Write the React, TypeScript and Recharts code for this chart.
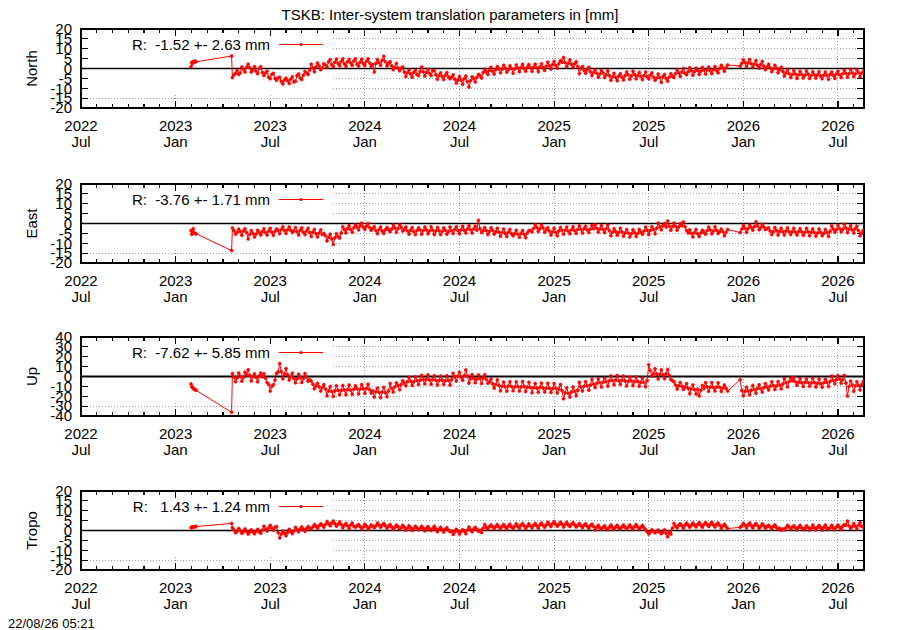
import React from 'react';
import { LineChart, Line, XAxis, YAxis, ReferenceLine, ReferenceArea } from 'recharts';

// x = months counted from 2022 Jul (0), 2023 Jan = 6, ...
const majorTicks = [0, 6, 12, 18, 24, 30, 36, 42, 48];
const yearLabels = ['2022', '2023', '2023', '2024', '2024', '2025', '2025', '2026', '2026'];
const monthLabels = ['Jul', 'Jan', 'Jul', 'Jan', 'Jul', 'Jan', 'Jul', 'Jan', 'Jul'];
const monthTicks = Array.from({ length: 50 }, (_, i) => i);
const xEnd = 49.65;

const ticks20 = [-20, -15, -10, -5, 0, 5, 10, 15, 20];
const ticks40 = [-40, -30, -20, -10, 0, 10, 20, 30, 40];

// first short session, then the lone epoch before the continuous series
const earlyMonths = [6.98, 7.02, 7.07, 7.12, 7.18, 7.25, 7.3, 9.55];
const earlyNorth = [1.0, 3.0, 2.5, 3.6, 3.2, 3.8, 3.4, 6.3];
const earlyEast = [-3.5, -5.5, -4.0, -2.6, -4.8, -5.0, -5.2, -13.7];
const earlyUp = [-7.5, -10.0, -11.0, -12.0, -12.8, -13.5, -14.0, -36.3];
const earlyTropo = [1.4, 1.6, 1.8, 1.7, 2.0, 1.9, 2.0, 3.6];

// continuous series: "A" values at 9.6, 9.8, ... and "B" values at 9.7, 9.9, ...
// (one row = one month, null = no solution)
const denseStart = 9.6;
const denseStep = 0.2;

const northA = [
  -4.6, -2.4, -3.0, 0.8, -1.8,
  2.2, -1.8, 1.0, -2.6, 0.9,
  -3.6, -1.4, -5.2, -2.4, -6.0,
  -4.4, -7.8, -4.9, -7.6, -4.2,
  -6.4, -2.8, -5.6, -1.5, -3.0,
  2.2, -1.6, 2.8, -0.6, 2.4,
  0.8, 4.6, 1.0, 4.8, 1.4,
  4.9, 1.2, 4.6, 1.6, 5.0,
  1.3, 4.7, 1.5, 4.9, 1.2,
  -1.8, 4.6, 1.6, 6.2, 1.4,
  3.4, -0.6, 2.6, -1.2, 0.8,
  -4.0, -0.8, -4.4, -1.0, -3.6,
  0.8, -3.8, -0.4, -3.6, -1.0,
  -5.4, -2.2, -5.6, -2.0, -5.2,
  -3.2, -7.4, -4.0, -8.0, -3.8,
  -9.4, -4.2, -6.8, -3.0, -4.8,
  -0.4, -3.0, 0.6, -2.8, 1.0,
  -2.2, 1.6, -1.8, 1.4, -2.4,
  1.8, -1.6, 2.2, -1.4, 2.0,
  -1.4, 2.2, -1.6, 2.4, -1.0,
  3.2, -0.2, 3.6, 0.2, 4.0,
  5.6, 1.0, 4.4, 0.6, 3.4,
  -2.6, 1.0, -2.4, 0.6, -3.6,
  -0.6, -4.4, -1.0, -4.6, -1.2,
  -6.0, -2.4, -6.2, -2.6, -5.8,
  -1.8, -5.4, -1.4, -5.2, -2.0,
  -5.6, -1.8, -5.2, -2.2, -6.0,
  -2.8, -7.0, -3.0, -6.4, -2.6,
  -4.6, -0.6, -4.0, 0.0, -3.2,
  0.4, -3.4, 0.2, -3.0, 0.6,
  -2.8, 0.8, -2.6, 1.0, -2.2,
  1.6, -1.4, 1.8, null, null,
  null, 1.2, 4.4, 1.0, 4.6,
  0.6, 4.0, 0.2, 3.6, -0.6,
  2.2, -1.6, 1.6, -2.2, 0.6,
  -3.8, -0.6, -4.6, -1.0, -5.0,
  -1.4, -4.8, -1.2, -5.0, -1.6,
  -4.8, -1.6, -5.2, -1.8, -5.4,
  -1.8, -5.0, -1.4, -4.6, -0.8,
  -4.4, -0.4, -4.0, -0.6, -4.2,
  -1.6,
];
const northB = [
  -3.2, -1.0, -2.2, -0.4, 0.6,
  0.4, -0.8, -1.4, 0.0, -2.0,
  -2.2, -4.4, -3.0, -5.0, -4.8,
  -6.6, -5.8, -6.2, -5.4, -6.8,
  -3.6, -4.8, -3.4, -2.2, -0.8,
  0.2, 0.8, 1.4, 0.4, 1.8,
  3.4, 2.0, 3.2, 2.6, 3.6,
  2.4, 3.4, 2.8, 3.8, 2.2,
  3.2, 2.4, 3.6, 2.8, 2.0,
  2.6, 3.0, 4.2, 3.4, 2.6,
  1.4, 0.6, 0.2, 0.0, -1.8,
  -2.2, -2.8, -2.0, -3.0, -1.6,
  -1.6, -2.0, -2.4, -1.2, -3.0,
  -3.6, -4.0, -3.4, -4.2, -4.4,
  -5.4, -5.8, -6.0, -5.2, -6.6,
  -6.2, -5.0, -4.6, -3.6, -2.0,
  -1.6, -1.0, -1.4, -0.6, -0.2,
  -0.4, 0.2, -0.6, 0.0, -0.2,
  0.2, 0.6, 0.0, 0.8, 0.4,
  0.6, 0.2, 0.8, 0.4, 1.2,
  1.4, 2.0, 1.6, 2.4, 3.2,
  3.0, 2.6, 2.2, 2.4, 1.0,
  0.0, -1.0, -0.6, -1.6, -2.0,
  -2.4, -2.8, -2.2, -3.2, -3.6,
  -4.2, -4.6, -3.8, -4.4, -3.6,
  -3.2, -3.8, -3.0, -3.6, -4.0,
  -3.6, -4.2, -3.4, -4.4, -4.8,
  -4.6, -4.2, -5.0, -4.4, -3.8,
  -2.6, -2.2, -1.8, -2.4, -1.6,
  -1.2, -1.6, -1.0, -1.4, -0.8,
  -0.8, -1.2, -0.6, -1.0, 0.0,
  0.2, 0.4, null, null, null,
  null, 2.6, 3.0, 2.8, 2.4,
  2.2, 1.6, 2.0, 1.2, 0.8,
  0.4, -0.2, 0.2, -0.6, -1.4,
  -2.2, -2.6, -3.0, -2.8, -3.2,
  -3.0, -3.4, -2.8, -3.6, -3.2,
  -3.2, -3.8, -3.4, -3.6, -3.0,
  -3.4, -2.8, -3.2, -2.6, -2.4,
  -2.6, -2.2, -2.8, -2.0, -2.4,
];

const eastA = [
  -2.2, -5.4, -2.8, -6.0, -2.6,
  -7.8, -3.6, -6.8, -3.4, -5.8,
  -2.6, -5.8, -2.4, -6.0, -2.8,
  -5.2, -1.6, -5.0, -1.8, -4.6,
  -2.0, -5.8, -2.2, -5.6, -2.4,
  -6.6, -3.0, -6.8, -3.2, -5.0,
  -8.8, -5.4, -10.6, -5.2, -7.4,
  -1.6, -4.8, -1.2, -4.4, -0.6,
  -3.2, 0.2, -3.0, 0.0, -3.4,
  -1.6, -5.2, -1.8, -5.0, -2.0,
  -4.2, -0.8, -4.4, -0.6, -3.8,
  -1.8, -5.4, -2.0, -5.6, -2.2,
  -5.4, -1.8, -5.2, -1.6, -5.6,
  -2.0, -5.6, -2.2, -5.4, -1.8,
  -5.0, -1.6, -5.2, -1.4, -4.8,
  -1.2, -4.8, -1.4, 1.6, -4.6,
  -2.0, -5.6, -2.2, -5.4, -2.4,
  -6.4, -2.8, -6.6, -3.0, -6.2,
  -3.4, -7.0, -3.6, -7.2, -3.6,
  -4.2, -0.6, -4.0, -0.8, -4.4,
  -2.2, -5.8, -2.4, -6.2, -2.0,
  -5.4, -1.8, -5.2, -1.6, -5.0,
  -1.2, -4.8, -1.4, -4.6, -1.0,
  -0.6, -4.4, -1.0, -4.6, -0.8,
  -6.2, -2.6, -6.0, -2.4, -6.4,
  -3.0, -6.8, -3.2, -6.6, -3.0,
  -5.4, -1.8, -5.6, -1.6, -5.2,
  0.2, -3.2, 0.0, 1.3, -3.4,
  0.2, -3.4, 0.0, 0.8, -3.6,
  -3.2, -6.8, -3.0, -6.6, -3.4,
  -5.4, -1.8, -5.2, -1.6, -5.0,
  -2.8, -6.2, -3.0, null, null,
  null, -4.6, -1.0, -4.4, -0.8,
  -3.4, 0.9, -3.2, -0.4, -3.0,
  -2.2, -5.6, -2.0, -5.8, -2.4,
  -5.8, -2.2, -5.6, -2.4, -5.8,
  -2.6, -6.0, -2.4, -6.2, -2.8,
  -6.4, -2.8, -6.2, -3.0, -6.6,
  -1.2, -4.4, -1.0, -4.2, -0.4,
  -4.6, -1.2, -4.8, -1.4, -6.2,
  -3.4,
];
const eastB = [
  -3.6, -4.4, -4.0, -3.8, -4.6,
  -5.6, -5.0, -5.4, -4.6, -4.2,
  -4.6, -3.8, -4.4, -4.0, -3.6,
  -3.0, -3.6, -3.2, -3.4, -3.8,
  -4.2, -3.4, -4.4, -3.8, -4.6,
  -4.4, -5.2, -4.8, -5.6, -6.2,
  -7.0, -7.8, -7.2, -6.6, -4.8,
  -3.2, -2.6, -3.0, -2.2, -1.8,
  -1.2, -1.8, -1.4, -2.0, -2.6,
  -3.6, -3.0, -3.8, -3.2, -3.0,
  -2.8, -2.2, -2.6, -2.0, -3.0,
  -3.8, -3.4, -4.0, -3.6, -3.2,
  -3.6, -3.2, -3.8, -3.4, -3.8,
  -3.6, -4.0, -3.4, -4.2, -3.6,
  -3.0, -3.6, -3.2, -3.4, -2.8,
  -3.2, -2.8, -3.4, -2.6, -3.6,
  -3.6, -4.0, -3.4, -4.2, -4.4,
  -4.6, -5.0, -4.4, -5.2, -5.0,
  -5.4, -5.0, -5.6, -4.8, -3.6,
  -2.4, -2.0, -2.6, -2.2, -3.0,
  -3.8, -4.2, -4.6, -3.8, -3.4,
  -3.4, -3.8, -3.2, -3.6, -3.0,
  -3.0, -2.6, -3.2, -2.8, -2.6,
  -2.4, -2.8, -3.0, -2.6, -3.6,
  -4.4, -4.0, -4.6, -4.2, -4.8,
  -4.8, -5.2, -4.6, -5.0, -4.4,
  -3.8, -3.4, -3.6, -3.0, -2.4,
  -1.6, -1.2, -1.8, -1.4, -1.6,
  -1.4, -1.8, -1.2, -1.6, -4.8,
  -5.0, -4.6, -5.2, -4.8, -4.4,
  -3.6, -3.2, -3.8, -3.4, -4.0,
  -4.2, -4.6, null, null, null,
  null, -2.8, -2.4, -2.6, -2.0,
  -1.6, -1.2, -2.0, -1.8, -2.6,
  -3.8, -4.2, -3.6, -4.0, -4.2,
  -3.8, -4.2, -4.0, -4.4, -4.0,
  -4.2, -4.6, -4.0, -4.4, -4.6,
  -4.8, -4.4, -5.0, -4.6, -4.0,
  -2.8, -3.2, -2.6, -3.0, -2.2,
  -2.8, -3.2, -2.6, -3.6, -4.8,
];

const upA = [
  3.0, -5.2, 3.6, -4.8, 4.4,
  6.8, -4.6, 2.8, -5.4, 3.6,
  2.8, -6.2, -14.8, -8.4, 3.0,
  13.2, -2.4, 8.0, -3.6, 3.4,
  -6.4, 2.4, -6.0, 3.0, -4.8,
  -4.6, -12.4, -6.8, -14.6, -8.2,
  -19.6, -10.0, -20.2, -9.4, -18.6,
  -9.0, -18.4, -8.6, -18.0, -9.4,
  -17.6, -8.2, -17.0, -7.8, -16.8,
  -20.8, -11.6, -21.4, -11.0, -20.4,
  -7.0, -15.6, -6.4, -13.4, -4.2,
  -9.4, -1.0, -9.0, -0.4, -8.2,
  1.2, -7.4, 1.6, -7.8, 0.8,
  -8.6, 0.4, -8.2, 0.8, -8.8,
  3.2, -4.6, 4.4, -3.8, 6.6,
  -6.8, 2.0, -6.4, 1.6, -7.2,
  1.8, -6.8, -2.6, -11.8, -3.4,
  -14.6, -5.6, -15.0, -5.2, -14.4,
  -5.4, -14.8, -5.0, -15.2, -5.8,
  -16.4, -7.0, -16.0, -6.6, -15.6,
  -6.8, -16.2, -7.2, -16.8, -8.0,
  -22.6, -11.4, -20.8, -10.6, -19.4,
  -5.8, -14.6, -5.2, -13.8, -3.0,
  -11.2, -2.4, -10.6, -1.8, -9.8,
  0.6, -8.4, 1.0, -8.0, 0.4,
  -9.6, -0.8, -9.2, -0.4, -9.8,
  -1.6, -10.4, 11.8, 0.4, 7.8,
  -2.6, 6.8, -2.4, 7.2, -3.0,
  -5.4, -12.6, -6.0, -13.2, -7.2,
  -17.4, -8.6, -17.8, -19.8, -9.0,
  -6.2, -15.0, -6.0, -14.6, -6.4,
  -15.2, -8.6, -14.8, null, null,
  null, -3.2, -19.4, -10.8, -18.6,
  -9.0, -17.0, -8.4, -15.8, -7.2,
  -13.6, -5.4, -13.2, -5.0, -12.4,
  -2.2, -10.6, -1.4, -1.0, -8.8,
  -2.0, -10.2, -2.4, -9.8, -1.8,
  -10.6, -2.6, -10.8, -2.8, -10.2,
  0.4, -7.4, 0.8, -6.8, 1.2,
  -19.8, -4.6, -15.0, -5.2, -13.6,
  -4.8,
];
const upB = [
  -0.6, -1.4, 0.2, -0.8, 1.6,
  1.2, -0.2, -1.0, 0.6, -0.4,
  -1.8, -8.0, -10.0, -3.6, 4.6,
  5.0, 2.6, 1.8, -0.2, -2.0,
  -2.4, -1.0, -2.0, -0.6, -3.2,
  -7.8, -9.6, -10.4, -11.2, -12.6,
  -14.4, -15.2, -14.6, -13.8, -14.2,
  -13.6, -13.2, -14.0, -12.8, -12.4,
  -12.8, -12.4, -12.0, -13.2, -14.6,
  -15.4, -16.2, -15.8, -16.4, -14.6,
  -12.0, -10.4, -9.0, -8.0, -6.6,
  -5.2, -4.6, -5.6, -4.0, -3.8,
  -3.2, -2.8, -3.6, -3.0, -3.8,
  -4.0, -3.6, -4.4, -3.8, -3.2,
  -0.4, 0.2, -0.8, 1.0, 0.6,
  -2.4, -1.8, -2.8, -2.0, -1.4,
  -3.0, -5.4, -7.4, -8.2, -9.0,
  -9.8, -10.4, -9.6, -10.2, -10.6,
  -10.0, -10.6, -9.8, -10.8, -11.2,
  -11.4, -11.8, -11.0, -11.6, -12.0,
  -11.8, -12.4, -11.6, -12.8, -14.2,
  -16.4, -17.0, -15.6, -15.0, -13.8,
  -10.6, -9.8, -9.4, -8.6, -7.8,
  -6.8, -6.2, -5.8, -5.0, -4.4,
  -4.0, -3.6, -4.4, -3.8, -4.6,
  -5.0, -4.4, -5.2, -4.8, -5.8,
  -6.0, -4.0, 6.0, 3.0, 2.6,
  2.2, 1.6, 2.8, 1.0, -4.0,
  -8.6, -9.4, -9.8, -10.6, -11.8,
  -12.6, -13.2, -12.8, -14.0, -12.2,
  -10.4, -10.8, -11.2, -10.6, -11.0,
  -11.6, -11.8, null, null, null,
  null, -14.2, -15.0, -14.6, -13.8,
  -13.2, -12.0, -12.4, -11.2, -10.6,
  -9.8, -9.2, -9.6, -8.6, -7.6,
  -6.2, -5.0, -4.4, -5.2, -5.8,
  -6.4, -5.8, -6.2, -6.6, -6.0,
  -6.8, -7.2, -6.4, -6.0, -5.0,
  -3.8, -3.2, -2.6, -3.4, -6.6,
  -10.2, -8.4, -9.6, -8.8, -8.2,
];

const tropoA = [
  1.4, -1.2, 1.0, -1.4, 0.8,
  -1.8, 0.4, -1.6, 0.6, -1.4,
  2.2, -0.2, 2.6, 0.2, 2.0,
  -3.8, -0.2, -2.6, 0.6, -1.6,
  1.6, -0.6, 1.8, -0.4, 2.0,
  0.8, 3.0, 1.2, 3.4, 1.6,
  4.6, 2.4, 4.8, 2.2, 4.4,
  1.4, 3.6, 1.2, 3.8, 1.6,
  3.0, 0.8, 3.2, 0.6, 2.8,
  1.4, 3.8, 1.6, 3.6, 1.2,
  3.0, 0.6, 2.8, 0.8, 2.6,
  0.2, 2.4, 0.0, 2.2, 0.4,
  2.2, -0.2, 2.0, 0.0, 2.2,
  -0.6, 1.6, -0.8, 1.4, -0.6,
  -2.0, 0.6, -1.8, 0.4, -1.6,
  1.8, -0.6, 1.6, -0.4, -1.0,
  3.0, 0.6, 2.8, 0.8, 3.0,
  0.8, 3.0, 0.6, 3.2, 1.0,
  3.4, 1.2, 3.6, 1.0, 3.4,
  1.4, 3.6, 1.2, 3.8, 1.6,
  4.2, 2.0, 4.4, 2.2, 4.2,
  1.8, 4.2, 2.0, 4.0, 1.8,
  3.6, 1.4, 3.4, 1.2, 3.2,
  0.4, 2.6, 0.6, 2.4, 0.4,
  2.8, 0.6, 2.6, 0.8, 2.8,
  0.8, 2.8, 0.6, 3.0, 0.8,
  2.6, 0.4, -1.8, 0.4, -1.2,
  0.2, -1.6, 0.4, -3.2, -1.8,
  3.6, 1.4, 3.4, 1.2, 3.8,
  1.6, 3.8, 1.8, 4.0, 1.6,
  4.0, 2.0, 4.2, 1.8, 3.8,
  1.2, 3.2, 1.0, null, null,
  null, 1.6, 3.6, 1.4, 3.8,
  1.4, 3.6, 1.2, 3.4, 1.2,
  2.6, 0.6, 2.8, 0.8, 0.1,
  0.4, 2.6, 0.6, 2.4, 0.4,
  2.6, 0.4, 2.4, 0.2, 2.8,
  0.4, 2.6, 0.2, 2.8, 0.6,
  2.6, 0.4, 2.8, 0.6, 3.0,
  4.8, 1.2, 3.6, 0.8, 4.0,
  1.8,
];
const tropoB = [
  0.2, -0.4, 0.0, -0.6, -0.4,
  -0.8, -0.6, -0.4, -0.8, 0.2,
  0.8, 1.4, 1.2, 1.6, -1.0,
  -1.8, -1.4, -1.0, -0.6, -0.2,
  0.4, 0.8, 0.6, 1.0, 1.2,
  1.8, 2.2, 2.4, 2.6, 3.0,
  3.4, 3.8, 3.4, 3.2, 3.0,
  2.6, 2.4, 2.8, 2.2, 2.4,
  2.0, 1.8, 2.2, 1.6, 2.2,
  2.4, 2.8, 2.6, 2.4, 2.2,
  1.8, 1.6, 2.0, 1.4, 1.6,
  1.2, 1.4, 1.0, 1.2, 1.0,
  1.0, 1.2, 0.8, 1.0, 0.8,
  0.6, 0.4, 0.6, 0.2, -0.2,
  -0.8, -0.4, -0.6, -0.2, 0.2,
  0.4, 0.8, 0.6, 0.2, 1.2,
  1.6, 2.0, 1.8, 2.0, 1.8,
  2.0, 1.8, 2.2, 1.8, 2.2,
  2.2, 2.6, 2.4, 2.2, 2.4,
  2.6, 2.4, 2.8, 2.6, 2.8,
  3.0, 3.4, 3.2, 3.0, 3.2,
  3.0, 2.8, 3.2, 2.8, 2.6,
  2.4, 2.6, 2.2, 2.4, 2.0,
  1.6, 1.4, 1.6, 1.2, 1.6,
  1.6, 1.8, 1.4, 1.8, 1.6,
  1.8, 1.6, 2.0, 1.8, 1.6,
  1.4, -0.6, -0.8, -0.4, -0.6,
  -0.8, -1.0, -1.4, -0.6, 1.2,
  2.2, 2.6, 2.4, 2.6, 2.8,
  2.6, 2.8, 3.0, 2.8, 3.0,
  3.0, 3.2, 2.8, 3.0, 2.6,
  2.4, 2.0, null, null, null,
  null, 2.4, 2.6, 2.8, 2.4,
  2.6, 2.4, 2.2, 2.4, 2.0,
  1.8, 2.0, 1.6, 1.2, 0.8,
  1.4, 1.8, 1.6, 1.4, 1.6,
  1.4, 1.2, 1.6, 1.2, 1.4,
  1.6, 1.4, 1.6, 1.2, 1.4,
  1.4, 1.8, 1.6, 2.0, 2.6,
  2.4, 2.0, 2.2, 2.6, 2.2,
];

type Row = { m: number; north: number | null; east: number | null; up: number | null; tropo: number | null };

const rows: Row[] = earlyMonths.map((m, i) => ({
  m,
  north: earlyNorth[i],
  east: earlyEast[i],
  up: earlyUp[i],
  tropo: earlyTropo[i],
}));
northA.forEach((v, i) => {
  const m = denseStart + i * denseStep;
  rows.push({ m: +m.toFixed(2), north: v, east: eastA[i], up: upA[i], tropo: tropoA[i] });
  if (i < northB.length) {
    rows.push({ m: +(m + denseStep / 2).toFixed(2), north: northB[i], east: eastB[i], up: upB[i], tropo: tropoB[i] });
  }
});

const panels = [
  { key: 'north', title: 'North', min: -20, max: 20, ticks: ticks20, keyBottom: -12.5, stat: 'R:  -1.52 +- 2.63 mm' },
  { key: 'east', title: 'East', min: -20, max: 20, ticks: ticks20, keyBottom: -12.5, stat: 'R:  -3.76 +- 1.71 mm' },
  { key: 'up', title: 'Up', min: -40, max: 40, ticks: ticks40, keyBottom: -25, stat: 'R:  -7.62 +- 5.85 mm' },
  { key: 'tropo', title: 'Tropo', min: -20, max: 20, ticks: ticks20, keyBottom: -12.5, stat: 'R:   1.43 +- 1.24 mm' },
];

const plotTops = [29, 184, 337, 491];
const PLOT_H = 79;
const PLOT_W = 783;
const TOP_PAD = 10;
const FONT = '"Liberation Sans", Arial, Helvetica, sans-serif';
const RED = '#ff0000';
const GRID = '#a0a0a0';
const KEY_RIGHT = 15.95; // the opaque key box hides the grid up to here
const MAJOR_PX = 7;
const MINOR_PX = 4;

function DateTick(props: any) {
  const { x, y, payload } = props;
  const i = majorTicks.indexOf(payload.value);
  return (
    <text x={x} y={y} textAnchor="middle" fontSize={15} fill="#000">
      <tspan x={x} dy={23}>{yearLabels[i]}</tspan>
      <tspan x={x} dy={15.5}>{monthLabels[i]}</tspan>
    </text>
  );
}

function ValueTick(props: any) {
  const { x, y, payload } = props;
  return (
    <text x={x - 9} y={y} dy="0.355em" textAnchor="end" fontSize={15} fill="#000">
      {payload.value}
    </text>
  );
}

function Panel({ p, top }: { p: (typeof panels)[number]; top: number }) {
  const gridRows = p.ticks.filter((v) => v !== 0 && v !== p.min && v !== p.max);
  const dom: [number, number] = [p.min, p.max];
  const xdom: [number, number] = [0, xEnd];
  // inward tick marks on all four sides (gnuplot style), lengths turned into axis units
  const yPerPx = (p.max - p.min) / PLOT_H;
  const xPerPx = xEnd / PLOT_W;
  const tickMark = { stroke: '#000', strokeWidth: 1.2, shapeRendering: 'crispEdges' as const };
  return (
    <div style={{ position: 'absolute', left: 0, top: top - TOP_PAD }}>
      <LineChart
        width={900}
        height={TOP_PAD + PLOT_H + 45}
        data={rows}
        margin={{ top: TOP_PAD, right: 36, bottom: 0, left: 0 }}
      >
        <XAxis
          dataKey="m"
          type="number"
          domain={xdom}
          allowDataOverflow
          ticks={majorTicks}
          interval={0}
          tick={DateTick}
          tickSize={0}
          tickMargin={0}
          tickLine={false}
          axisLine={false}
          height={45}
        />
        <YAxis
          type="number"
          domain={dom}
          allowDataOverflow
          ticks={p.ticks}
          interval={0}
          width={81}
          tick={ValueTick}
          tickSize={0}
          tickMargin={0}
          tickLine={false}
          axisLine={false}
        />

        {gridRows.map((v) => (
          <ReferenceLine
            key={'h' + v}
            segment={[{ x: v > p.keyBottom ? KEY_RIGHT : 0, y: v }, { x: xEnd, y: v }]}
            stroke={GRID}
            strokeDasharray="1 2"
            shapeRendering="crispEdges"
          />
        ))}
        {majorTicks.slice(1).map((m) => (
          <ReferenceLine
            key={'v' + m}
            segment={[{ x: m, y: p.min }, { x: m, y: m < KEY_RIGHT ? p.keyBottom : p.max }]}
            stroke={GRID}
            strokeDasharray="1 2"
            shapeRendering="crispEdges"
          />
        ))}

        {monthTicks.slice(1).map((m) => {
          const len = (majorTicks.includes(m) ? MAJOR_PX : MINOR_PX) * yPerPx;
          return [
            <ReferenceLine key={'tb' + m} segment={[{ x: m, y: p.min }, { x: m, y: p.min + len }]} {...tickMark} />,
            <ReferenceLine key={'tt' + m} segment={[{ x: m, y: p.max }, { x: m, y: p.max - len }]} {...tickMark} />,
          ];
        })}
        {p.ticks.slice(1, -1).map((v) => [
          <ReferenceLine key={'tl' + v} segment={[{ x: 0, y: v }, { x: MAJOR_PX * xPerPx, y: v }]} {...tickMark} />,
          <ReferenceLine key={'tr' + v} segment={[{ x: xEnd, y: v }, { x: xEnd - MAJOR_PX * xPerPx, y: v }]} {...tickMark} />,
        ])}

        <ReferenceLine y={0} stroke="#000" strokeWidth={p.key === 'up' ? 2 : 1.5} />

        <Line
          type="linear"
          dataKey={p.key}
          stroke={RED}
          strokeWidth={1}
          dot={{ r: 1.5, fill: RED, stroke: RED, strokeWidth: 0.6 }}
          activeDot={false}
          connectNulls
          isAnimationActive={false}
        />
        <ReferenceArea
          x1={0}
          x2={xEnd}
          y1={p.min}
          y2={p.max}
          fill="none"
          stroke="#000"
          strokeWidth={2}
          shapeRendering="crispEdges"
        />
      </LineChart>
    </div>
  );
}

export default function App() {
  return (
    <div style={{ position: 'absolute', left: 0, top: 0, width: 900, height: 630, background: '#fff', fontFamily: FONT }}>
      {panels.map((p, i) => (
        <Panel key={p.key} p={p} top={plotTops[i]} />
      ))}
      <svg
        width={900}
        height={630}
        style={{ position: 'absolute', left: 0, top: 0, pointerEvents: 'none' }}
        fontFamily={FONT}
      >
        <text x={450} y={20} textAnchor="middle" fontSize={15} fill="#000">
          TSKB: Inter-system translation parameters in [mm]
        </text>
        {panels.map((p, i) => {
          const t = plotTops[i];
          return (
            <g key={p.key}>
              <text transform={`translate(37, ${t + PLOT_H / 2}) rotate(-90)`} textAnchor="middle" fontSize={15} fill="#000">
                {p.title}
              </text>
              <text x={270} y={t + 21} textAnchor="end" fontSize={15} fill="#000" style={{ whiteSpace: 'pre' }}>
                {p.stat}
              </text>
              <line x1={279} x2={323} y1={t + 15.5} y2={t + 15.5} stroke={RED} strokeWidth={1} />
              <circle cx={301} cy={t + 15.5} r={1.6} fill={RED} />
            </g>
          );
        })}
        <text x={8} y={628} fontSize={13} fill="#000">
          22/08/26 05:21
        </text>
      </svg>
    </div>
  );
}
